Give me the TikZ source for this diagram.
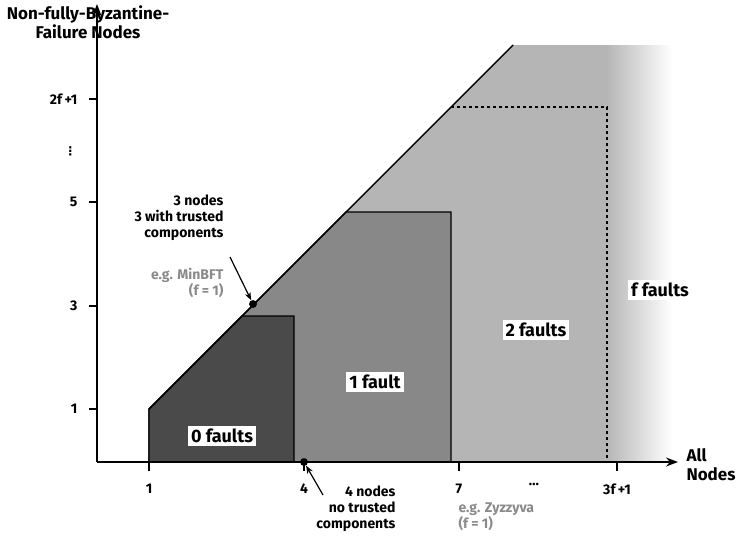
\documentclass[tikz,border=0pt]{standalone}
\usepackage{fontspec}
\setmainfont{Fira Sans}
\newfontfamily\symfont{DejaVu Sans}
\usepackage{tikz}
\usetikzlibrary{arrows.meta, positioning}
\definecolor{dark}{HTML}{4a4a4a}
\definecolor{mid}{HTML}{888888}
\definecolor{light}{HTML}{b5b5b5}
\definecolor{note}{HTML}{8a8a8a}
\tikzset{
    axis/.style={line width=1.4pt, -{Stealth[length=12pt, width=9pt]}},
    region/.style={draw, line width=1.2pt},
    faults/.style={fill=white, inner sep=3pt, font=\fontsize{18}{18}\selectfont\bfseries},
    tick/.style={font=\fontsize{14}{14}\selectfont\bfseries},
    remark/.style={align=right, font=\fontsize{14}{16}\selectfont\bfseries},
    pointer/.style={line width=1.2pt, -{Stealth[length=8pt]}},
}
\begin{document}
\begin{tikzpicture}[x=1pt, y=-1pt]
    \useasboundingbox (0,0) rectangle (747,558);
    % regions
    \fill[light] (149,462) -- (149,409) -- (513,45) -- (607,45) -- (607,462) -- cycle;
    \shade[left color=light, right color=white] (606,45) rectangle (672,462);
    \draw[line width=1.1pt, dashed] (451,107) -- (607,107) -- (607,462);
    \draw[region, fill=mid] (149,462) -- (149,409) -- (346,212) -- (451,212) -- (451,462);
    \draw[region, fill=dark] (149,462) -- (149,409) -- (242,316) -- (294,316) -- (294,462);
    \draw[line width=1.4pt] (149,409) -- (513,45);
    % axes
    \coordinate (o) at (97,462);
    \draw[axis] (o) -- (678,462) coordinate (xend);
    \draw[axis] (o) -- (97,4) coordinate (yend);
    \node[align=center, font=\fontsize{17}{19}\selectfont\bfseries] (ylab) at (88,22) {Non-fully-Byzantine-\\Failure Nodes};
    \node[align=left, anchor=west, font=\fontsize{17}{19}\selectfont\bfseries] (xlab) at (683,465) {All\\Nodes};
    \foreach \x/\t in {149/1, 304/4, 459/7, 617/3f\,+1}
        {\draw[line width=1.2pt] (\x,462) -- (\x,471);
         \node[tick] at (\x,489) {\t};}
    \node[tick] at (534,484) {\dots};
    \foreach \y/\t in {409/1, 306/3, 202/5, 99/2f\,+1}
        {\draw[line width=1.2pt] (89,\y) -- (97,\y);
         \node[tick, anchor=east] at (81,\y) {\t};}
    \node[tick, anchor=east] at (80,151) {\symfont\fontsize{12}{12}\selectfont ⋮};
    % labels
    \node[faults] (f0) at (222,436) {0 faults};
    \node[faults] (f1) at (375,382) {1 fault};
    \node[faults] (f2) at (536,330) {2 faults};
    \node[faults] (ff) at (660,290) {f faults};
    % remarks
    \node[circle, fill, inner sep=2.8pt] (d3) at (253,304) {};
    \node[circle, fill, inner sep=2.8pt] (d4) at (304,462) {};
    \node[remark, anchor=north east] (r3) at (227,191) {3 nodes\\3 with trusted\\components};
    \node[remark, anchor=north east, text=note] (m3) at (227,265) {e.g. MinBFT\\(f = 1)};
    \node[remark, anchor=north east] (r4) at (399,482) {4 nodes\\no trusted\\components};
    \node[remark, anchor=north west, align=left, text=note] (m4) at (455,499) {e.g. Zyzzyva\\(f = 1)};
    \coordinate (a3) at (230,257);
    \coordinate (a4) at (323,495);
    \draw[pointer] (a3) -- (d3);
    \draw[pointer] (a4) -- (d4);
\end{tikzpicture}
\end{document}
